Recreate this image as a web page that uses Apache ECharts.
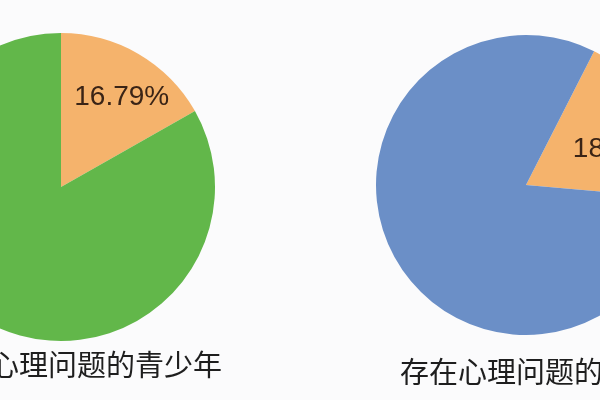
<!DOCTYPE html>
<html>
<head>
<meta charset="utf-8">
<script src="https://cdn.jsdelivr.net/npm/echarts@6/dist/echarts.min.js"></script>
<style>
  html, body { margin: 0; padding: 0; background: #fbfbfc; }
  #main { width: 600px; height: 400px; }
</style>
</head>
<body>
<div id="main"></div>
<script>
// 数据
var categories = ['存在心理问题', '其他'];
var leftValues = [16.79, 83.21];
var rightValues = [18.9, 81.1];
var captions = ['存在心理问题的青少年', '存在心理问题的青少年'];

var orange = '#f5b36c';
var green = '#62b74a';
var blue = '#6b8fc7';

function pieData(values, colors) {
    return categories.map(function (name, i) {
        return { name: name, value: values[i], itemStyle: { color: colors[i] } };
    });
}

// 透明的标签层，只用来把百分比放到原图的位置
function labelData(values) {
    return categories.map(function (name, i) {
        return {
            name: name,
            value: values[i],
            itemStyle: { color: 'rgba(0,0,0,0)' },
            label: { show: i === 0 }
        };
    });
}

var labelStyle = {
    position: 'inside',
    formatter: function (p) { return p.value.toFixed(2) + '%'; },
    color: '#3a2416',
    fontSize: 28,
    fontFamily: 'Liberation Sans, Arial, sans-serif'
};

var myChart = echarts.init(document.getElementById('main'));
myChart.setOption({
    backgroundColor: '#fbfbfc',
    animation: false,
    series: [
        {
            type: 'pie',
            center: [61, 187],
            radius: 154,
            startAngle: 90,
            clockwise: true,
            label: { show: false },
            labelLine: { show: false },
            silent: true,
            data: pieData(leftValues, [orange, green])
        },
        {
            type: 'pie',
            center: [61, 187],
            radius: 210,
            startAngle: 86,
            label: labelStyle,
            labelLine: { show: false },
            silent: true,
            data: labelData(leftValues)
        },
        {
            type: 'pie',
            center: [526, 185],
            radius: 150,
            startAngle: 63,
            label: { show: false },
            labelLine: { show: false },
            silent: true,
            data: pieData(rightValues, [orange, blue])
        },
        {
            type: 'pie',
            center: [526, 185],
            radius: 196,
            startAngle: 55,
            label: labelStyle,
            labelLine: { show: false },
            silent: true,
            data: labelData(rightValues)
        }
    ],
    graphic: [
        {
            type: 'text',
            x: 222,
            y: 365,
            style: {
                text: captions[0],
                fill: '#1e1e1e',
                fontSize: 29,
                fontFamily: 'Noto Sans CJK SC',
                align: 'right',
                verticalAlign: 'middle'
            }
        },
        {
            type: 'text',
            x: 400,
            y: 372,
            style: {
                text: captions[1],
                fill: '#1e1e1e',
                fontSize: 29,
                fontFamily: 'Noto Sans CJK SC',
                align: 'left',
                verticalAlign: 'middle'
            }
        }
    ]
});
</script>
</body>
</html>
